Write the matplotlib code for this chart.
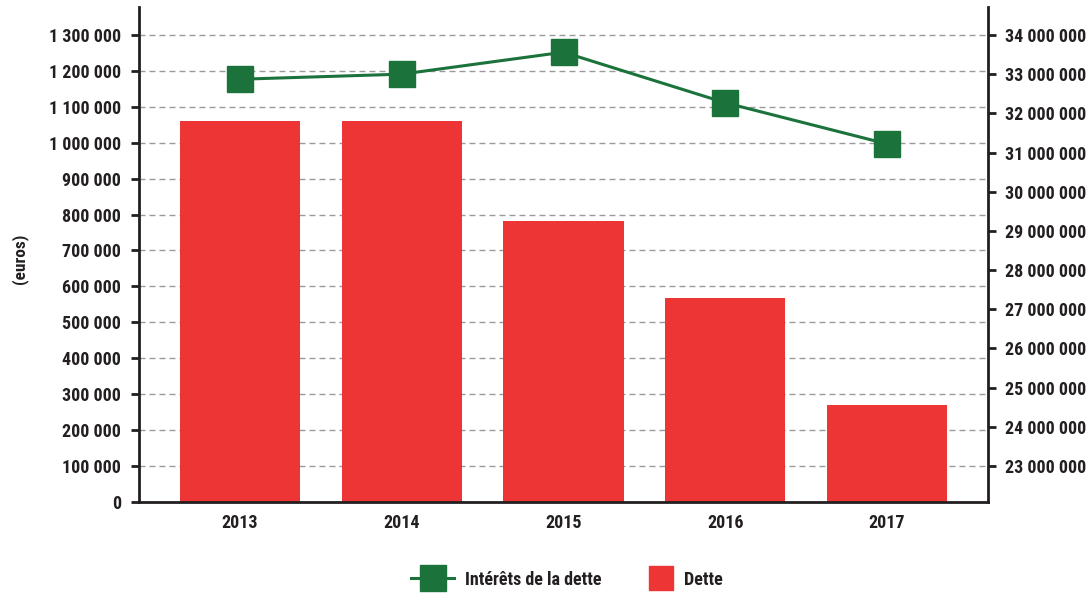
import matplotlib
matplotlib.use("Agg")
import matplotlib.pyplot as plt
from matplotlib import font_manager
from matplotlib.lines import Line2D

'''
    DATA
'''
YEARS = ["2013", "2014", "2015", "2016", "2017"]
DETTE = [1060000, 1060000, 782000, 567000, 269000]
INTERETS = [32870000, 33000000, 33560000, 32270000, 31220000]

LEFT_TICKS = list(range(0, 1300001, 100000))
RIGHT_TICKS = list(range(23000000, 34000001, 1000000))

RED = "#EE3536"
GREEN = "#1B733B"
DARK = "#231F20"

names = {f.name for f in font_manager.fontManager.ttflist}
family = [f for f in ["Roboto Condensed", "Liberation Sans Narrow", "Liberation Sans"] if f in names]
plt.rcParams['font.family'] = family + ["DejaVu Sans"]
plt.rcParams['font.weight'] = "bold"


def fmt(v):
    return f"{v:,.0f}".replace(",", " ")


fig = plt.figure(figsize=(10.89, 5.94), dpi=100)
ax = fig.add_axes([0.1276, 0.1554, 0.7797, 0.8326])
ax2 = ax.twinx()

x = list(range(len(YEARS)))
ax.bar(x, DETTE, width=0.743, color=RED, zorder=2)
ax.set_ylim(0, 1378000)
ax.set_xlim(-0.625, 4.625)
ax.set_yticks(LEFT_TICKS)
ax.set_yticklabels([fmt(v) for v in LEFT_TICKS])
ax.set_xticks(x)
ax.set_xticklabels(YEARS)
ax.set_axisbelow(True)
ax.yaxis.grid(True, linestyle=(0, (4.3, 2.9)), color="#9a9a9a", linewidth=1)

ax2.plot(x, INTERETS, color=GREEN, linewidth=2.2, marker="s", markersize=19,
         markerfacecolor=GREEN, markeredgecolor=GREEN)
ax2.set_ylim(22090000, 34710000)
ax2.set_yticks(RIGHT_TICKS)
ax2.set_yticklabels([fmt(v) for v in RIGHT_TICKS])

for a in (ax, ax2):
    for s in a.spines.values():
        s.set_visible(False)
ax.spines["left"].set_visible(True)
ax.spines["bottom"].set_visible(True)
ax2.spines["right"].set_visible(True)
for s in (ax.spines["left"], ax.spines["bottom"], ax2.spines["right"]):
    s.set_color(DARK)
    s.set_linewidth(2)

ax.tick_params(axis="y", length=6, width=2, color=DARK, labelsize=13, labelcolor=DARK, pad=7)
ax.tick_params(axis="x", length=0, labelsize=13, labelcolor=DARK, pad=9)
ax2.tick_params(axis="y", length=6, width=2, color=DARK, labelsize=13, labelcolor=DARK, pad=6)

fig.text(0.018, 0.565, "(euros)", rotation=90, fontsize=12.5, color=DARK,
         ha="center", va="center")

line_handle = Line2D([0], [0], color=GREEN, linewidth=2.2, marker="s", markersize=19)
fig.legend([line_handle], ["Intérêts de la dette"], loc="center",
           bbox_to_anchor=(0.465, 0.024), frameon=False, fontsize=13,
           handlelength=2.4, handletextpad=0.6, labelcolor=DARK)
sq_handle = Line2D([0], [0], linestyle="none", marker="s", markersize=17,
                   color=RED)
fig.legend([sq_handle], ["Dette"], loc="center",
           bbox_to_anchor=(0.631, 0.024), frameon=False, fontsize=13,
           handlelength=1.0, handletextpad=0.78, labelcolor=DARK)

plt.savefig("out.png", dpi=100)
